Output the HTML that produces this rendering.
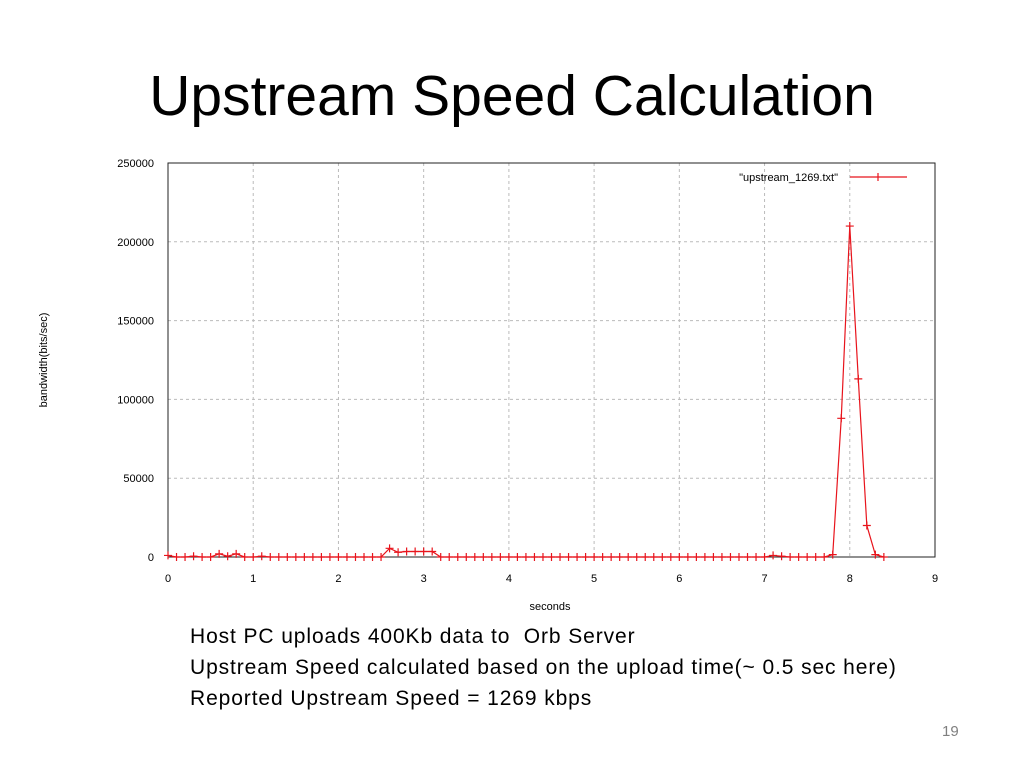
<!DOCTYPE html>
<html><head><meta charset="utf-8"><style>
body{margin:0;width:1024px;height:768px;background:#fff;font-family:"Liberation Sans",sans-serif;overflow:hidden;position:relative}
h1{position:absolute;top:60px;left:0;width:1024px;text-align:center;margin:0;font-weight:normal;font-size:57px;line-height:72px;color:#000}
.cap{position:absolute;left:190px;top:621px;font-size:21px;letter-spacing:0.9px;line-height:31px;color:#000}
.pg{position:absolute;left:942px;top:723px;font-size:15px;color:#7f7f7f}
</style></head><body>
<h1>Upstream Speed Calculation</h1>
<svg id="chart" width="1024" height="768" style="position:absolute;left:0;top:0"></svg>
<div class="cap">Host PC uploads 400Kb data to&nbsp; Orb Server<br>Upstream Speed calculated based on the upload time(~ 0.5 sec here)<br>Reported Upstream Speed = 1269 kbps</div>
<div class="pg">19</div>
<script>
const xTicks=[0,1,2,3,4,5,6,7,8,9];
const yTicks=[0,50000,100000,150000,200000,250000];
const values=[1000,0,0,500,0,0,2000,500,2000,0,0,500,0,0,0,0,0,0,0,0,0,0,0,0,0,0,5500,3000,3500,3500,3500,3500,0,0,0,0,0,0,0,0,0,0,0,0,0,0,0,0,0,0,0,0,0,0,0,0,0,0,0,0,0,0,0,0,0,0,0,0,0,0,0,1000,500,0,0,0,0,0,1500,88000,210000,113000,20000,1500,0];
const times=values.map((v,i)=>i/10);
const L=168,R=935,T=163,B=557;
const sx=x=>L+(x-0)/(9-0)*(R-L);
const sy=y=>B-(y/250000)*(B-T);
const svg=document.getElementById('chart');
const NS='http://www.w3.org/2000/svg';
function mk(t,a){const e=document.createElementNS(NS,t);for(const k in a)e.setAttribute(k,a[k]);svg.appendChild(e);return e;}
xTicks.forEach(t=>{
 if(t>0&&t<9){const g=mk('line',{x1:sx(t),x2:sx(t),y1:T,y2:B,stroke:'#bbb','stroke-dasharray':'3,3'});
 
 }
 const tx=mk('text',{x:sx(t),y:582,'font-size':11,'text-anchor':'middle','font-family':'Liberation Sans, sans-serif'});
 tx.textContent=t;
 
 
});
yTicks.forEach(t=>{
 if(t>0&&t<250000){const g=mk('line',{x1:L,x2:R,y1:sy(t),y2:sy(t),stroke:'#bbb','stroke-dasharray':'3,3'});
 
 }
 const tx=mk('text',{x:154,y:sy(t)+4,'font-size':11,'text-anchor':'end','font-family':'Liberation Sans, sans-serif'});
 tx.textContent=t;
 
 
});
const fr=mk('rect',{x:L,y:T,width:R-L,height:B-T,fill:'none',stroke:'#222','stroke-width':1});


const xt=mk('text',{x:550,y:610,'font-size':11,'text-anchor':'middle','font-family':'Liberation Sans, sans-serif'});
xt.textContent='seconds';


const yt=mk('text',{x:0,y:0,'font-size':11,'text-anchor':'middle','font-family':'Liberation Sans, sans-serif',transform:'translate(47,360) rotate(-90)'});
yt.textContent='bandwidth(bits/sec)';


const pts=values.map((v,i)=>sx(times[i])+','+sy(v)).join(' ');
const pl=mk('polyline',{points:pts,fill:'none',stroke:'#e8141c','stroke-width':1.2});


values.forEach((v,i)=>{
 const x=sx(times[i]),y=sy(v);
 const p=mk('path',{d:`M${x-4},${y}H${x+4}M${x},${y-4}V${y+4}`,stroke:'#e8141c','stroke-width':1.2});
 
 
});
const lt=mk('text',{x:838,y:181,'font-size':11,'text-anchor':'end','font-family':'Liberation Sans, sans-serif'});
lt.textContent='"upstream_1269.txt"';


const ll=mk('path',{d:'M850,177H907M878,173V181',stroke:'#e8141c','stroke-width':1.2});


</script>
</body></html>
